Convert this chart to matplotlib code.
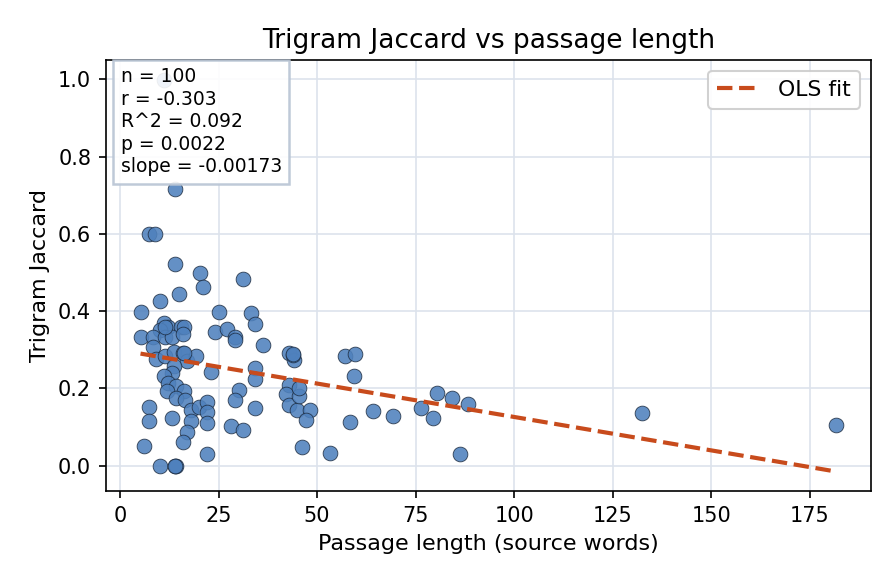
import matplotlib
matplotlib.use("Agg")
import matplotlib.pyplot as plt
import numpy as np

# passage length (source words) and trigram Jaccard
LENGTH = [13.9, 20.2, 21.1, 31.3, 15.0, 10.2, 5.2, 25.2, 33.3, 34.3,
          11.2, 12.2, 15.4, 16.2, 10.1, 24.2, 27.2, 29.3, 29.3, 5.2,
          8.3, 11.4, 13.2, 16.0, 36.3, 8.3, 9.2, 11.4, 13.8, 16.0,
          17.1, 19.3, 13.8, 13.2, 11.2, 23.1, 43.0, 44.1, 43.8, 34.3,
          34.3, 12.2, 14.1, 12.0, 16.2, 14.1, 16.6, 30.2, 29.3, 42.9,
          42.2, 43.0, 45.0, 45.4, 7.3, 7.3, 13.2, 18.1, 20.1, 22.1,
          22.1, 18.1, 22.1, 17.1, 16.0, 28.1, 31.3, 34.3, 6.2, 22.1,
          10.2, 13.9, 14.1, 7.4, 9.0, 13.9, 11.2, 57.2, 59.6, 59.4,
          45.4, 48.2, 47.2, 58.3, 64.2, 69.3, 76.4, 79.4, 80.5, 84.3,
          88.3, 46.2, 53.3, 86.2, 132.5, 181.7, 14.0, 11.5, 44.0, 16.3]
JACCARD = [0.521, 0.498, 0.462, 0.482, 0.444, 0.426, 0.397, 0.397, 0.395, 0.366,
           0.369, 0.360, 0.360, 0.358, 0.350, 0.345, 0.354, 0.333, 0.326, 0.333,
           0.333, 0.333, 0.333, 0.341, 0.312, 0.307, 0.276, 0.284, 0.295, 0.291,
           0.270, 0.284, 0.257, 0.240, 0.231, 0.242, 0.291, 0.274, 0.287, 0.254,
           0.225, 0.214, 0.207, 0.192, 0.192, 0.175, 0.171, 0.196, 0.170, 0.209,
           0.185, 0.158, 0.145, 0.179, 0.152, 0.115, 0.123, 0.143, 0.152, 0.166,
           0.139, 0.116, 0.110, 0.086, 0.061, 0.103, 0.093, 0.149, 0.052, 0.031,
           0.000, 0.000, 0.000, 0.600, 0.600, 0.717, 0.999, 0.284, 0.289, 0.233,
           0.200, 0.145, 0.119, 0.112, 0.141, 0.129, 0.149, 0.123, 0.188, 0.176,
           0.160, 0.048, 0.033, 0.031, 0.136, 0.105, 0.000, 0.360, 0.290, 0.292]

STATS = ["n = 100", "r = -0.303", "R^2 = 0.092", "p = 0.0022", "slope = -0.00173"]
SLOPE, INTERCEPT = -0.00173, 0.299

PT_C, FIT_C = "#4f81bd", "#c84b1c"

fig, ax = plt.subplots(figsize=(896 / 150, 584 / 150), dpi=150)
fig.subplots_adjust(left=0.118, right=0.972, top=0.897, bottom=0.159)

x = np.array(LENGTH)
y = np.array(JACCARD)
ax.scatter(x, y, s=50, color=PT_C, alpha=0.88, edgecolors="#1c2b3f",
           linewidths=0.4, zorder=3)

xf = np.array([x.min(), x.max()])
ax.plot(xf, INTERCEPT + SLOPE * xf, "--", color=FIT_C, lw=2, zorder=4,
        label="OLS fit")

ax.set_title("Trigram Jaccard vs passage length", fontsize=12.7)
ax.set_xlabel("Passage length (source words)", fontsize=10.7)
ax.set_ylabel("Trigram Jaccard", fontsize=10.7)
ax.grid(True, color="#dde3ec", lw=0.8, zorder=0)
ax.set_axisbelow(True)
ax.legend(loc="upper right", fontsize=10.5, framealpha=0.9)

ax.text(0.0196, 0.984, "\n".join(STATS), transform=ax.transAxes, fontsize=9,
        va="top", ha="left", zorder=5, linespacing=1.24,
        bbox=dict(boxstyle="square,pad=0.4", fc="white", ec="#b8c4d4",
                  lw=1.2, alpha=0.9))

fig.savefig("out.png", dpi=150)
